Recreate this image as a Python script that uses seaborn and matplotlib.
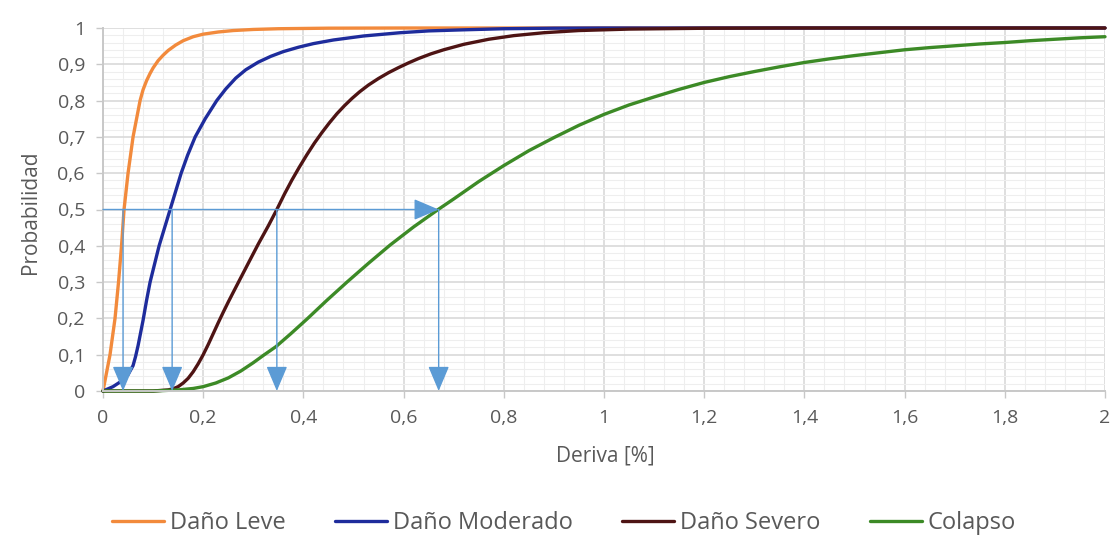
import matplotlib
matplotlib.use("Agg")
import matplotlib.pyplot as plt
import seaborn as sns
import pandas as pd
from matplotlib.ticker import MultipleLocator, FixedLocator

# ---------------- data ----------------
series_names = ["Daño Leve", "Daño Moderado", "Daño Severo", "Colapso"]
series_colors = ["#F28A3C", "#1E2C9C", "#4E1414", "#3C8A26"]

leve_x = [0, 0.007, 0.014, 0.024, 0.031, 0.037, 0.042, 0.05, 0.06, 0.067, 0.074,
          0.08, 0.087, 0.094, 0.1, 0.11, 0.12, 0.13, 0.145, 0.16, 0.18, 0.2,
          0.23, 0.26, 0.3, 0.35, 0.45, 0.6, 2.0]
leve_y = [0, 0.05, 0.1, 0.2, 0.3, 0.4, 0.5, 0.6, 0.7, 0.75, 0.8,
          0.83, 0.855, 0.875, 0.89, 0.91, 0.925, 0.938, 0.953, 0.965, 0.976, 0.983,
          0.989, 0.993, 0.996, 0.998, 0.9995, 1.0, 1.0]

moderado_x = [0, 0.02, 0.04, 0.05, 0.06, 0.065, 0.07, 0.075, 0.08, 0.087, 0.094,
              0.103, 0.112, 0.123, 0.134, 0.145, 0.156, 0.169, 0.184, 0.204, 0.227,
              0.245, 0.265, 0.285, 0.31, 0.335, 0.36, 0.39, 0.42, 0.46, 0.52, 0.593,
              0.65, 0.72, 0.8, 0.9, 1.0, 2.0]
moderado_y = [0, 0.012, 0.03, 0.045, 0.07, 0.095, 0.125, 0.16, 0.195, 0.25, 0.3,
              0.35, 0.4, 0.45, 0.5, 0.55, 0.6, 0.65, 0.7, 0.75, 0.8,
              0.832, 0.862, 0.885, 0.906, 0.922, 0.935, 0.947, 0.957, 0.967, 0.978, 0.987,
              0.992, 0.995, 0.998, 0.9995, 1.0, 1.0]

severo_x = [0, 0.1, 0.13, 0.14, 0.15, 0.16, 0.17, 0.18, 0.19, 0.2, 0.21, 0.22,
            0.23, 0.24, 0.25, 0.26, 0.275, 0.29, 0.31, 0.33, 0.347, 0.362, 0.377,
            0.392, 0.407, 0.422, 0.437, 0.452, 0.467, 0.482, 0.497, 0.512, 0.53,
            0.55, 0.57, 0.59, 0.61, 0.63, 0.655, 0.68, 0.72, 0.77, 0.82, 0.88,
            0.95, 1.05, 1.2, 1.35, 2.0]
severo_y = [0, 0.0, 0.003, 0.006, 0.012, 0.022, 0.035, 0.053, 0.075, 0.1, 0.128, 0.158,
            0.188, 0.217, 0.245, 0.272, 0.312, 0.352, 0.405, 0.455, 0.5, 0.542, 0.581,
            0.617, 0.651, 0.683, 0.712, 0.739, 0.764, 0.786, 0.806, 0.824, 0.843,
            0.861, 0.877, 0.891, 0.904, 0.916, 0.929, 0.94, 0.955, 0.969, 0.979, 0.987,
            0.993, 0.997, 0.9993, 1.0, 1.0]

colapso_x = [0, 0.1, 0.15, 0.18, 0.2, 0.225, 0.25, 0.275, 0.3, 0.32, 0.345, 0.375,
             0.407, 0.447, 0.487, 0.53, 0.573, 0.62, 0.669, 0.7, 0.75, 0.8, 0.85,
             0.9, 0.95, 1.0, 1.05, 1.1, 1.15, 1.2, 1.25, 1.3, 1.35, 1.4, 1.45,
             1.5, 1.55, 1.6, 1.65, 1.7, 1.75, 1.8, 1.85, 1.9, 1.95, 2.0]
colapso_y = [0, 0.0, 0.003, 0.007, 0.012, 0.022, 0.036, 0.055, 0.078, 0.098, 0.122, 0.158,
             0.198, 0.25, 0.3, 0.352, 0.402, 0.452, 0.5, 0.529, 0.577, 0.621, 0.662,
             0.698, 0.732, 0.762, 0.788, 0.81, 0.831, 0.85, 0.866, 0.88, 0.893, 0.905, 0.915,
             0.924, 0.932, 0.94, 0.946, 0.951, 0.956, 0.96, 0.965, 0.969, 0.973, 0.976]

# drift values at probability 0.5 (arrow guides)
medians = [0.04, 0.138, 0.347, 0.67]
median_level = 0.5

x_ticks = [0, 0.2, 0.4, 0.6, 0.8, 1.0, 1.2, 1.4, 1.6, 1.8, 2.0]
x_tick_labels = ["0", "0,2", "0,4", "0,6", "0,8", "1", "1,2", "1,4", "1,6", "1,8", "2"]
y_ticks = [0, 0.1, 0.2, 0.3, 0.4, 0.5, 0.6, 0.7, 0.8, 0.9, 1.0]
y_tick_labels = ["0", "0,1", "0,2", "0,3", "0,4", "0,5", "0,6", "0,7", "0,8", "0,9", "1"]

# ---------------- build frame ----------------
frames = []
for name, xs, ys in zip(series_names,
                        [leve_x, moderado_x, severo_x, colapso_x],
                        [leve_y, moderado_y, severo_y, colapso_y]):
    frames.append(pd.DataFrame({"Deriva": xs, "Probabilidad": ys, "Serie": name}))
df = pd.concat(frames, ignore_index=True)

# ---------------- style ----------------
sns.set_theme(style="white")
plt.rcParams['font.family'] = ['Open Sans', 'DejaVu Sans']
text_color = "#595959"
grid_major = "#D9D9D9"
grid_minor = "#EEEEEE"
arrow_color = "#5B9BD5"

fig = plt.figure(figsize=(11.13, 5.40), dpi=100)
ax = fig.add_axes([103 / 1113, 1 - 391 / 540, 1002 / 1113, 363 / 540])

sns.lineplot(data=df, x="Deriva", y="Probabilidad", hue="Serie",
             hue_order=series_names, palette=series_colors,
             estimator=None, sort=False, linewidth=2.4, ax=ax)
for ln in ax.get_lines():
    ln.set_clip_on(False)
    ln.set_solid_capstyle("round")
    ln.set_solid_joinstyle("round")

ax.set_xlim(0, 2)
ax.set_ylim(0, 1)
ax.xaxis.set_major_locator(FixedLocator(x_ticks))
ax.yaxis.set_major_locator(FixedLocator(y_ticks))
ax.set_xticklabels(x_tick_labels)
ax.set_yticklabels(y_tick_labels)
ax.xaxis.set_minor_locator(MultipleLocator(0.04))
ax.yaxis.set_minor_locator(MultipleLocator(0.02))

ax.set_axisbelow(True)
ax.grid(which="minor", color=grid_minor, linewidth=0.8)
ax.grid(which="major", color=grid_major, linewidth=1.2)

for s in ["top", "right"]:
    ax.spines[s].set_visible(False)
for s in ["left", "bottom"]:
    ax.spines[s].set_color("#C8C8C8")
    ax.spines[s].set_linewidth(1.4)

ax.tick_params(which="major", direction="out", length=5, width=1,
               color="#C8C8C8", labelcolor=text_color, labelsize=14,
               left=True, bottom=True)
ax.tick_params(axis="x", which="major", pad=8)
ax.tick_params(axis="y", which="major", pad=8)
ax.tick_params(which="minor", length=0)

ax.set_xlabel("Deriva [%]", fontsize=15, color=text_color)
ax.set_ylabel("Probabilidad", fontsize=15, color=text_color)
ax.xaxis.set_label_coords(0.501, -0.15)
ax.yaxis.set_label_coords(-0.062, 0.493)

# arrow guides
arrow_kw = dict(arrowstyle="-|>,head_length=1.3,head_width=0.55",
                color=arrow_color, lw=1.0, shrinkA=0, shrinkB=0)
ax.annotate("", xy=(medians[-1], median_level), xytext=(0, median_level),
            arrowprops=arrow_kw, zorder=5)
for m in medians:
    ax.annotate("", xy=(m, 0), xytext=(m, median_level),
                arrowprops=arrow_kw, zorder=5)

sns.move_legend(ax, "center", bbox_to_anchor=(0.46, -0.365), ncol=4,
                frameon=False, title=None, fontsize=17,
                handlelength=2.2, handletextpad=0.25, columnspacing=2.1,
                labelcolor=text_color)
for h in ax.get_legend().get_lines():
    h.set_linewidth(2.4)

fig.savefig("out.png", dpi=100)
